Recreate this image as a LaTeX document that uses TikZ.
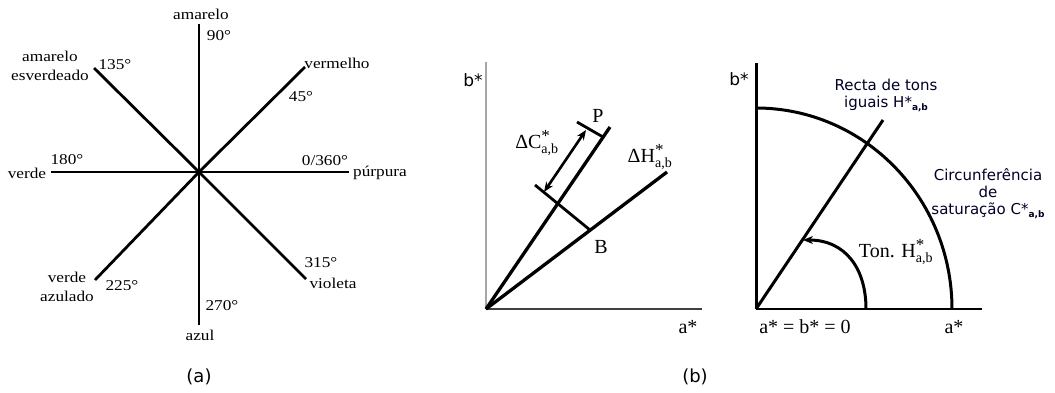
\documentclass[tikz,border=0pt]{standalone}
\usepackage{fontspec}
\setmainfont{Liberation Serif}
\newfontfamily\tmsx[FakeStretch=1.15]{Liberation Serif}
\newfontfamily\vrd{DejaVu Sans}
\usetikzlibrary{arrows.meta}
\newcommand\ab[1]{$^{\hbox{\fontsize{17}{17}\selectfont *}}_{\hbox{\fontsize{14}{14}\selectfont #1}}$}
\newcommand\abs[1]{*\raisebox{-3pt}{\bfseries\fontsize{9}{9}\selectfont #1}}

\begin{document}
\begin{tikzpicture}[
  x=1pt, y=-1pt,
  raio/.style={line width=2.8pt},
  eixo/.style={line width=1.3pt},
  lbl/.style={inner sep=0pt, font=\tmsx\fontsize{15}{19}\selectfont, align=center},
  lblb/.style={inner sep=0pt, font=\fontsize{20}{22}\selectfont},
  lbls/.style={inner sep=0pt, font=\vrd\fontsize{15}{17}\selectfont, align=center, text=black!85!blue},
  legenda/.style={inner sep=0pt, font=\vrd\fontsize{18}{20}\selectfont},
  ponta/.style={-{Stealth[length=10pt,width=8pt]}}
]
  \useasboundingbox (0,0) rectangle (1055,392);

  % (a) roda de tons
  \coordinate (c) at (199,172);
  \coordinate (r0) at (349,172);
  \coordinate (r45) at (305,67);
  \coordinate (r90) at (199,24);
  \coordinate (r135) at (94,68);
  \coordinate (r180) at (51,172);
  \coordinate (r225) at (95,280);
  \coordinate (r270) at (199,325);
  \coordinate (r315) at (306,279);

  \draw[raio] (c) -- (r0);
  \draw[raio] (c) -- (r45);
  \draw[raio] (c) -- (r90);
  \draw[raio] (c) -- (r135);
  \draw[raio] (c) -- (r180);
  \draw[raio] (c) -- (r225);
  \draw[raio] (c) -- (r270);
  \draw[raio] (c) -- (r315);

  % nomes das cores e angulos
  \node[lbl] (amarelo) at (201,14) {amarelo};
  \node[lbl] (g90) at (219,36) {90°};
  \node[lbl] (amaesv) at (50,66) {amarelo\\esverdeado};
  \node[lbl] (g135) at (115,65) {135°};
  \node[lbl] (vermelho) at (337,63) {vermelho};
  \node[lbl] (g45) at (301,97) {45°};
  \node[lbl] (g180) at (67,160) {180°};
  \node[lbl] (verde) at (27,173) {verde};
  \node[lbl] (g0) at (325,161) {0/360°};
  \node[lbl] (purpura) at (380,173) {púrpura};
  \node[lbl] (verdeaz) at (67,287) {verde\\azulado};
  \node[lbl] (g225) at (122,286) {225°};
  \node[lbl] (g270) at (222,306) {270°};
  \node[lbl] (azul) at (200,335) {azul};
  \node[lbl] (g315) at (321,263) {315°};
  \node[lbl] (violeta) at (333,283) {violeta};
  \node[legenda] (capa) at (199,377) {(a)};

  % (b) diferencas de croma e de tom
  \coordinate (o1) at (486,309);
  \coordinate (yb1) at (486,62);
  \coordinate (xa1) at (702,309);
  \coordinate (p1) at (610,127);
  \coordinate (h1) at (667,172);
  \coordinate (B) at (590,230);
  \coordinate (t1) at (535,185);
  \coordinate (tp1) at (603,137);
  \coordinate (tp2) at (577,122);
  \coordinate (dc1) at (544,192);
  \coordinate (dc2) at (586,130);

  \draw[eixo, gray!70] (o1) -- (yb1);
  \draw[eixo, black!75] (o1) -- (xa1);
  \draw[raio, line width=3.3pt] (o1) -- (p1);
  \draw[raio, line width=3.3pt] (o1) -- (h1);
  \draw[raio] (B) -- (t1);
  \draw[raio] (tp1) -- (tp2);
  \draw[line width=2.6pt, {Stealth[length=10pt,width=8pt]}-{Stealth[length=10pt,width=8pt]}] (dc1) -- (dc2);

  \node[inner sep=0pt, font=\vrd\fontsize{17}{17}\selectfont] (b1) at (473,80) {b*};
  \node[lblb] (a1) at (688,327) {a*};
  \node[lblb] (dC) at (537,143) {ΔC\ab{a,b}};
  \node[lblb] (P) at (598,116) {P};
  \node[lblb] (dH) at (650,157) {ΔH\ab{a,b}};
  \node[lblb] (Bl) at (601,247) {B};
  \node[legenda] (capb) at (695,377) {(b)};

  % circunferencia de saturacao e tom
  \coordinate (o2) at (756,309);
  \coordinate (yb2) at (756,63);
  \coordinate (xa2) at (982,309);
  \coordinate (c1) at (756,108);
  \coordinate (h2) at (883,120);
  \coordinate (s1) at (866,309);
  \coordinate (s2) at (803,240);

  \draw[raio, line width=3pt] (o2) -- (yb2);
  \draw[eixo, line width=2pt] (o2) -- (xa2);
  \draw[raio, line width=3pt] (c1) arc[start angle=270, end angle=360, x radius=196, y radius=201];
  \draw[raio, line width=3pt] (o2) -- (h2);
  \draw[raio, line width=3pt, ponta] (s1) .. controls (866,268) and (845,240) .. (s2);

  \node[inner sep=0pt, font=\vrd\fontsize{17}{17}\selectfont] (b2) at (739,79) {b*};
  \node[lbls] (recta) at (886,95) {Recta de tons\\iguais H\abs{a,b}};
  \node[lbls] (circ) at (988,194) {Circunferência\\de\\saturação C\abs{a,b}};
  \node[lblb] (ton) at (896,252) {Ton. H\ab{a,b}};
  \node[lblb] (zero) at (805,327) {a* = b* = 0};
  \node[lblb] (a2) at (954,327) {a*};
\end{tikzpicture}
\end{document}
